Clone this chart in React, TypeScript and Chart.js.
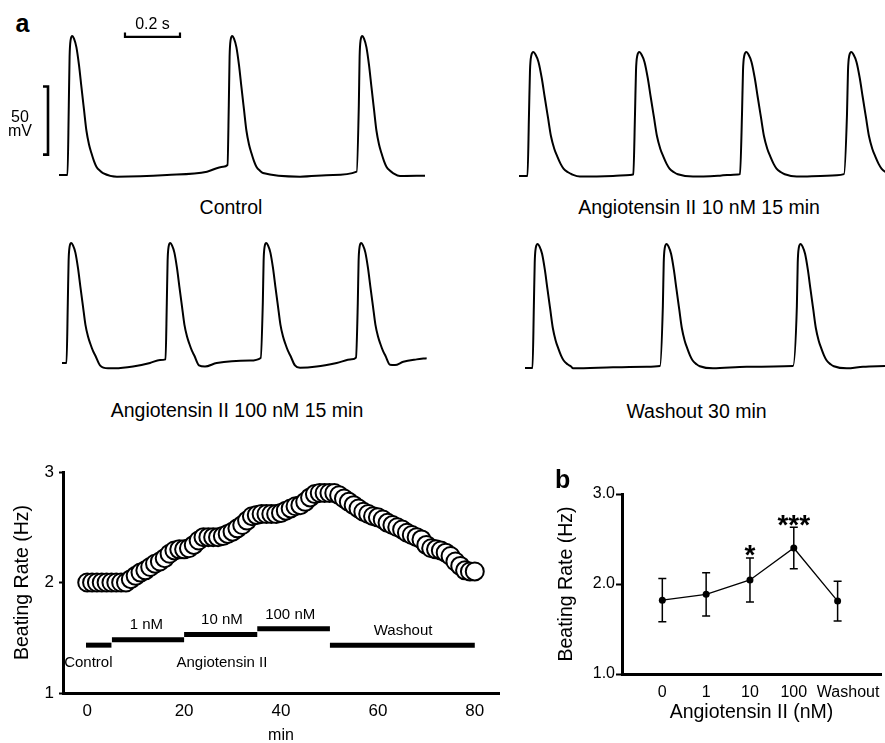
import React, { useEffect, useRef } from "react";
import { Chart, registerables } from "chart.js";

Chart.register(...registerables);

const FONT = "'Liberation Sans', Arial, Helvetica, sans-serif";
Chart.defaults.font.family = FONT;
Chart.defaults.color = "#000";

// ---------------- Panel a: action potential traces ----------------
// AP shape read from the first control spike: ms after upstroke onset, fraction of amplitude
const apShapeMs = [2.9, 5.8, 9.5, 15.6, 21.8, 30.5, 40, 48.7, 58.2, 66.9, 76.4, 85.1, 94.5, 103.3, 116.4, 127.3];
const apShapeFrac = [0.5, 0.85, 0.97, 1.0, 0.98, 0.92, 0.79, 0.635, 0.47, 0.32, 0.22, 0.158, 0.1, 0.06, 0.03, 0.014];

// Control
const ctrlOnsetsMs = [101.8, 683.6, 1156.4];
const ctrlBaseMs = [69.1, 100, 280, 461.8, 607.3, 665.5, 681.8, 945.5, 1065.5, 1151.5, 1309, 1400];
const ctrlBaseFrac = [0, 0, -0.012, 0, 0.024, 0.06, 0.072, -0.012, 0, 0.024, -0.007, -0.005];
// Angiotensin II 10 nM
const ang10OnsetsMs = [101.8, 487.3, 876.4, 1258.2];
const ang10BaseMs = [69.1, 100, 290.9, 410.9, 472.7, 484.7, 701.8, 800, 865.5, 872.7, 1078.9, 1188, 1250.9];
const ang10BaseFrac = [0, 0, -0.005, 0, 0.008, 0.013, -0.005, 0.003, 0.013, 0.015, -0.005, 0.003, 0.015];
// Angiotensin II 100 nM
const ang100OnsetsMs = [98.2, 458.2, 807.3, 1152.7];
const ang100BaseMs = [
  80, 96.4,
  218.2, 247.3, 272.7, 338.2, 400, 436.4, 456.4,
  578, 600, 642.5, 763.6, 802.5,
  927, 945.5, 1006, 1078.9, 1133.5, 1149,
  1272.7, 1290.9, 1321, 1369.8, 1406,
];
const ang100BaseFrac = [
  0, 0,
  -0.02, -0.045, -0.045, -0.03, 0, 0.025, 0.03,
  -0.02, -0.03, 0, 0.02, 0.042,
  -0.02, -0.04, -0.03, 0, 0.03, 0.045,
  -0.015, -0.017, 0.01, 0.03, 0.04,
];
// Washout 30 min
const washOnsetsMs = [120, 589.1, 1076.4];
const washBaseMs = [90.9, 118.2, 265.5, 410.9, 533.5, 581.8, 774.5, 897, 1065.5, 1260.7, 1320, 1400];
const washBaseFrac = [0, 0, -0.003, 0.005, 0.01, 0.016, -0.003, 0.01, 0.016, -0.003, 0.01, 0.016];

// Scale bars (0.2 s, 50 mV)
const timeBarMs = [309, 309, 509, 509];
const timeBarMv = [44.8, 41.5, 41.5, 44.8];
const voltBarMs = [10.9, 29.1, 29.1, 10.9];
const voltBarMv = [5, 5, -45, -45];

// ---------------- Beating rate time course ----------------
const rateHz = [
  2.0, 2.0, 2.0, 2.0, 2.0, 2.0, 2.0, 2.0, 2.0, 2.03,
  2.06, 2.09, 2.11, 2.14, 2.17, 2.19, 2.22, 2.26, 2.29, 2.3,
  2.3, 2.31, 2.34, 2.38, 2.41, 2.41, 2.41, 2.41, 2.42, 2.44,
  2.46, 2.49, 2.52, 2.56, 2.6, 2.61, 2.62, 2.62, 2.62, 2.62,
  2.63, 2.65, 2.67, 2.69, 2.7, 2.73, 2.77, 2.8, 2.81, 2.81,
  2.81, 2.81, 2.79, 2.76, 2.73, 2.7, 2.67, 2.64, 2.62, 2.6,
  2.59, 2.57, 2.54, 2.52, 2.5, 2.48, 2.45, 2.43, 2.41, 2.39,
  2.34, 2.31, 2.3, 2.29, 2.27, 2.24, 2.19, 2.15, 2.11, 2.1,
  2.1,
];
const minTicks = [0, 20, 40, 60, 80];
const barStart = [-0.25, 5.1, 20, 35.1, 50.1];
const barEnd = [5.0, 20, 35.1, 50.1, 80];
const barLevel = [1.433, 1.481, 1.529, 1.581, 1.433];
const noteText = ["Control", "Angiotensin II", "1 nM", "10 nM", "100 nM", "Washout"];
const noteX = [0.23, 27.8, 12.2, 27.8, 41.9, 65.2];
const noteY = [1.276, 1.276, 1.615, 1.661, 1.71, 1.561];

// ---------------- Panel b ----------------
const bCategories = ["0", "1", "10", "100", "Washout"];
const bTickPos = [0, 1, 2, 3, 4.24];
const bMean = [1.82, 1.885, 2.045, 2.4, 1.81];
const bErr = [0.24, 0.24, 0.245, 0.23, 0.22];
const bStars = ["", "", "*", "***", ""];

function buildTrace(onsets: number[], baseMs: number[], baseFrac: number[], widthFactor: number, restMv: number, ampMv: number, shapeCount = apShapeMs.length) {
  const pts: { x: number; y: number }[] = [];
  baseMs.forEach((t, i) => pts.push({ x: t, y: restMv + baseFrac[i] * ampMv }));
  onsets.forEach((o) =>
    apShapeMs.slice(0, shapeCount).forEach((t, i) => pts.push({ x: o + t * widthFactor, y: restMv + apShapeFrac[i] * ampMv }))
  );
  pts.sort((a, b) => a.x - b.x);
  return pts;
}

function traceDataset(data: { x: number; y: number }[], width = 2, smooth = true) {
  return {
    data,
    showLine: true,
    borderColor: "#000",
    borderWidth: width,
    pointRadius: 0,
    cubicInterpolationMode: smooth ? "monotone" : "default",
    tension: 0,
    borderCapStyle: "butt",
    borderJoinStyle: "miter",
  };
}

function TraceChart(props: { left: number; top: number; width: number; height: number; xMax: number; yMin: number; yMax: number; datasets: any[] }) {
  const ref = useRef<HTMLCanvasElement | null>(null);
  useEffect(() => {
    const chart = new Chart(ref.current as HTMLCanvasElement, {
      type: "scatter",
      data: { datasets: props.datasets },
      options: {
        responsive: false,
        animation: false,
        devicePixelRatio: 1,
        events: [],
        layout: { padding: 0 },
        plugins: { legend: { display: false }, tooltip: { enabled: false } },
        scales: {
          x: { type: "linear", display: false, min: 0, max: props.xMax },
          y: { type: "linear", display: false, min: props.yMin, max: props.yMax },
        },
      } as any,
    });
    return () => chart.destroy();
  }, []);
  return <canvas ref={ref} width={props.width} height={props.height} style={{ position: "absolute", left: props.left, top: props.top }} />;
}

function RateChart() {
  const ref = useRef<HTMLCanvasElement | null>(null);
  useEffect(() => {
    const datasets: any[] = [
      {
        data: rateHz.map((v, i) => ({ x: i, y: v })),
        showLine: false,
        pointRadius: 9,
        pointBorderWidth: 2,
        pointBorderColor: "#000",
        pointBackgroundColor: "#fff",
      },
      ...barLevel.map((lvl, i) => ({
        data: [
          { x: barStart[i], y: lvl },
          { x: barEnd[i], y: lvl },
        ],
        showLine: true,
        borderColor: "#000",
        borderWidth: 5,
        pointRadius: 0,
        borderCapStyle: "butt",
      })),
    ];
    const notes = {
      id: "notes",
      afterDatasetsDraw(chart: any) {
        const { ctx, scales } = chart;
        ctx.save();
        ctx.fillStyle = "#000";
        ctx.font = `15px ${FONT}`;
        ctx.textAlign = "center";
        ctx.textBaseline = "middle";
        noteText.forEach((t, i) => {
          ctx.fillText(t, scales.x.getPixelForValue(noteX[i]), scales.y.getPixelForValue(noteY[i]));
        });
        ctx.restore();
      },
    };
    const chart = new Chart(ref.current as HTMLCanvasElement, {
      type: "scatter",
      data: { datasets },
      plugins: [notes],
      options: {
        responsive: false,
        animation: false,
        devicePixelRatio: 1,
        events: [],
        layout: { padding: { top: 32, right: 21, bottom: 0, left: 0 } },
        plugins: { legend: { display: false }, tooltip: { enabled: false } },
        scales: {
          x: {
            type: "linear",
            min: -5,
            max: 85,
            afterBuildTicks: (s: any) => {
              s.ticks = minTicks.map((v) => ({ value: v }));
            },
            afterFit: (s: any) => {
              s.height = 52;
              s.paddingLeft = 0;
              s.paddingRight = 0;
            },
            grid: { display: false, tickLength: 8 },
            border: { display: true, width: 3, color: "#000" },
            ticks: { padding: 0, color: "#000", font: { size: 17 }, maxRotation: 0, autoSkip: false },
            title: { display: true, text: "min", color: "#000", font: { size: 16 }, padding: { top: 0, bottom: 0 } },
          },
          y: {
            type: "linear",
            min: 1,
            max: 3,
            afterBuildTicks: (s: any) => {
              s.ticks = [1, 2, 3].map((v) => ({ value: v }));
            },
            afterFit: (s: any) => {
              s.width = 63;
              s.paddingTop = 0;
              s.paddingBottom = 0;
            },
            grid: { display: true, drawOnChartArea: false, drawTicks: true, tickLength: 4, tickWidth: 2, tickColor: "#000" },
            border: { display: true, width: 3, color: "#000" },
            ticks: { padding: 5, color: "#000", font: { size: 17 } },
            title: { display: true, text: "Beating Rate (Hz)", color: "#000", font: { size: 19.5 }, padding: { top: 10.8, bottom: 0 } },
          },
        },
      } as any,
    });
    return () => chart.destroy();
  }, []);
  return <canvas ref={ref} width={520} height={305} style={{ position: "absolute", left: 0, top: 440 }} />;
}

function DoseChart() {
  const ref = useRef<HTMLCanvasElement | null>(null);
  useEffect(() => {
    const errBars = {
      id: "errBars",
      afterDatasetsDraw(chart: any) {
        const { ctx, scales } = chart;
        const meta = chart.getDatasetMeta(0);
        ctx.save();
        ctx.strokeStyle = "#000";
        ctx.fillStyle = "#000";
        ctx.lineWidth = 1.5;
        meta.data.forEach((pt: any, i: number) => {
          const x = pt.x;
          const yt = scales.y.getPixelForValue(bMean[i] + bErr[i]);
          const yb = scales.y.getPixelForValue(bMean[i] - bErr[i]);
          ctx.beginPath();
          ctx.moveTo(x, yt);
          ctx.lineTo(x, yb);
          ctx.moveTo(x - 4, yt);
          ctx.lineTo(x + 4, yt);
          ctx.moveTo(x - 4, yb);
          ctx.lineTo(x + 4, yb);
          ctx.stroke();
          if (bStars[i]) {
            ctx.font = `bold 28px ${FONT}`;
            ctx.textAlign = "center";
            ctx.textBaseline = "alphabetic";
            ctx.fillText(bStars[i], x, yt + 6.5);
          }
        });
        ctx.restore();
      },
    };
    const chart = new Chart(ref.current as HTMLCanvasElement, {
      type: "scatter",
      data: {
        datasets: [
          {
            data: bMean.map((v, i) => ({ x: i, y: v })),
            showLine: true,
            borderColor: "#000",
            borderWidth: 1.3,
            pointRadius: 3.5,
            pointBackgroundColor: "#000",
            pointBorderWidth: 0,
            tension: 0,
          },
        ],
      },
      plugins: [errBars],
      options: {
        responsive: false,
        animation: false,
        devicePixelRatio: 1,
        events: [],
        layout: { padding: { top: 39, right: 0, bottom: 0, left: 0 } },
        plugins: { legend: { display: false }, tooltip: { enabled: false } },
        scales: {
          x: {
            type: "linear",
            min: -0.92,
            max: 4.99,
            afterBuildTicks: (s: any) => {
              s.ticks = bTickPos.map((v) => ({ value: v }));
            },
            afterFit: (s: any) => {
              s.height = 69;
              s.paddingLeft = 0;
              s.paddingRight = 0;
            },
            grid: { display: false, tickLength: 9 },
            border: { display: true, width: 3, color: "#000" },
            ticks: { padding: 0, color: "#000", font: { size: 16 }, maxRotation: 0, autoSkip: false, callback: (_v: any, i: number) => bCategories[i] },
            title: { display: true, text: "Angiotensin II (nM)", color: "#000", font: { size: 19.5 }, padding: { top: 0, bottom: 18.3 } },
          },
          y: {
            type: "linear",
            min: 1,
            max: 3,
            afterBuildTicks: (s: any) => {
              s.ticks = [1, 2, 3].map((v) => ({ value: v }));
            },
            afterFit: (s: any) => {
              s.width = 82;
              s.paddingTop = 0;
              s.paddingBottom = 0;
            },
            grid: { display: true, drawOnChartArea: false, drawTicks: true, tickLength: 6, tickWidth: 2, tickColor: "#000" },
            border: { display: true, width: 3, color: "#000" },
            ticks: { padding: 1, color: "#000", font: { size: 16 }, callback: (v: any) => Number(v).toFixed(1) },
            title: { display: true, text: "Beating Rate (Hz)", color: "#000", font: { size: 19.5 }, padding: { top: 14.8, bottom: 0 } },
          },
        },
      } as any,
    });
    return () => chart.destroy();
  }, []);
  return <canvas ref={ref} width={345} height={288} style={{ position: "absolute", left: 540, top: 455 }} />;
}

function Label(props: { text: string; cx?: number; left?: number; top: number; size: number; bold?: boolean }) {
  const style: React.CSSProperties = {
    position: "absolute",
    top: props.top,
    fontFamily: FONT,
    fontSize: props.size,
    fontWeight: props.bold ? "bold" : "normal",
    lineHeight: 1,
    whiteSpace: "nowrap",
    color: "#000",
  };
  if (props.cx !== undefined) {
    style.left = props.cx - 200;
    style.width = 400;
    style.textAlign = "center";
  } else {
    style.left = props.left;
  }
  return <div style={style}>{props.text}</div>;
}

export default function App() {
  const ctrl = buildTrace(ctrlOnsetsMs, ctrlBaseMs, ctrlBaseFrac, 1.0, -60, 102.2);
  const ang10 = buildTrace(ang10OnsetsMs, ang10BaseMs, ang10BaseFrac, 1.25, -60, 91.2);
  const ang100 = buildTrace(ang100OnsetsMs, ang100BaseMs, ang100BaseFrac, 1.0, -60, 88.2, 14);
  const wash = buildTrace(washOnsetsMs, washBaseMs, washBaseFrac, 1.08, -60, 91.2);
  const timeBar = timeBarMs.map((t, i) => ({ x: t, y: timeBarMv[i] }));
  const voltBar = voltBarMs.map((t, i) => ({ x: t, y: voltBarMv[i] }));

  return (
    <div style={{ position: "absolute", left: 0, top: 0, width: 885, height: 743, overflow: "hidden", background: "#fff" }}>
      <TraceChart left={40} top={15} width={400} height={180} xMax={1454.5} yMin={-74.7} yMax={57.6}
        datasets={[traceDataset(ctrl), traceDataset(timeBar, 2.2, false), traceDataset(voltBar, 2.6, false)]} />
      <TraceChart left={500} top={15} width={385} height={180} xMax={1400} yMin={-73.97} yMax={58.4}
        datasets={[traceDataset(ang10)]} />
      <TraceChart left={40} top={225} width={400} height={160} xMax={1454.5} yMin={-76.2} yMax={41.47}
        datasets={[traceDataset(ang100)]} />
      <TraceChart left={500} top={225} width={385} height={160} xMax={1400} yMin={-72.5} yMax={45.1}
        datasets={[traceDataset(wash)]} />
      <RateChart />
      <DoseChart />
      <Label text="a" left={15.5} top={10.5} size={25} bold />
      <Label text="b" left={555} top={467} size={25} bold />
      <Label text="0.2 s" cx={152.5} top={15.5} size={16} />
      <Label text="50" cx={20} top={109} size={16} />
      <Label text="mV" cx={20} top={123} size={16} />
      <Label text="Control" cx={231} top={198} size={19.5} />
      <Label text="Angiotensin II 10 nM 15 min" cx={699} top={198} size={19.5} />
      <Label text="Angiotensin II 100 nM 15 min" cx={237} top={400.5} size={19.5} />
      <Label text="Washout 30 min" cx={696.5} top={402} size={19.5} />
    </div>
  );
}
